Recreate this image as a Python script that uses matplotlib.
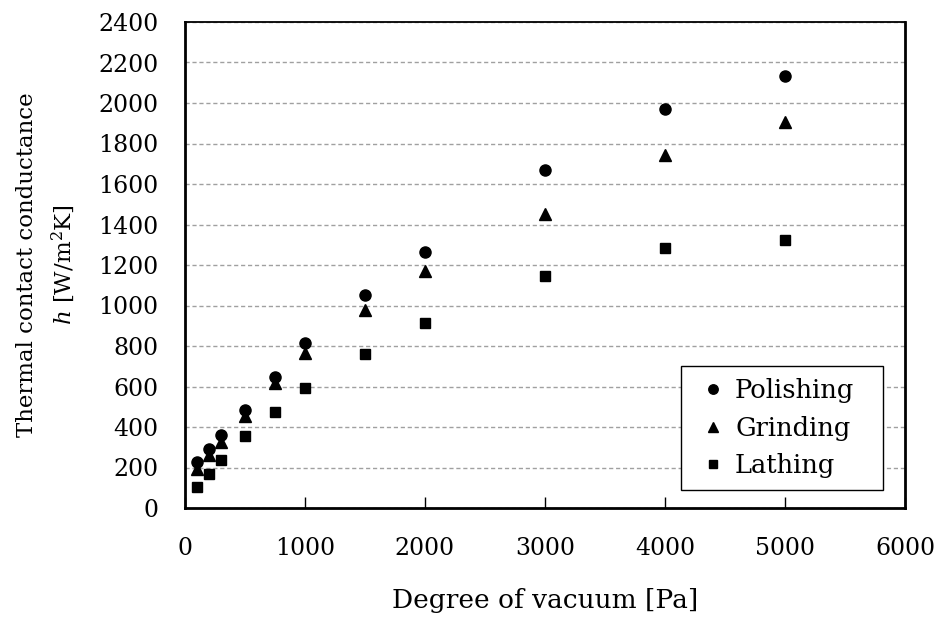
import matplotlib
matplotlib.use('Agg')
import matplotlib.pyplot as plt

plt.rcParams['font.family'] = 'DejaVu Serif'
plt.rcParams['mathtext.fontset'] = 'dejavuserif'

# degree of vacuum [Pa]
pressure = [100, 200, 300, 500, 750, 1000, 1500, 2000, 3000, 4000, 5000]
# thermal contact conductance [W/m2K]
polishing = [225, 290, 360, 485, 645, 815, 1050, 1265, 1670, 1972, 2132]
grinding = [195, 260, 328, 452, 617, 763, 980, 1168, 1452, 1745, 1905]
lathing = [102, 168, 236, 356, 476, 595, 760, 915, 1148, 1283, 1324]

xticks = [0, 1000, 2000, 3000, 4000, 5000, 6000]
yticks = list(range(0, 2401, 200))

fig = plt.figure(figsize=(9.42, 6.25), dpi=100)
ax = fig.add_axes([0.1964, 0.1872, 0.7643, 0.7776])

ax.plot(pressure, polishing, 'o', color='black', markersize=8, label='Polishing', zorder=3)
ax.plot(pressure, grinding, '^', color='black', markersize=8, label='Grinding', zorder=3)
ax.plot(pressure, lathing, 's', color='black', markersize=7, label='Lathing', zorder=3)

ax.set_xlim(0, 6000)
ax.set_ylim(0, 2400)
ax.set_xticks(xticks)
ax.set_yticks(yticks)
ax.tick_params(axis='x', direction='in', length=8, width=1, pad=21, labelsize=17)
ax.tick_params(axis='y', direction='in', length=0, pad=19, labelsize=17)

ax.yaxis.grid(True, linestyle=(0, (3, 2)), color='#a0a0a0', linewidth=1)
ax.set_axisbelow(True)

for side in ['left', 'bottom', 'right']:
    ax.spines[side].set_linewidth(2)
ax.spines['top'].set_linewidth(1.3)

ax.set_xlabel('Degree of vacuum [Pa]', fontsize=19, labelpad=20)
ax.set_ylabel('Thermal contact conductance\n$h$ [W/m$^2$K]', fontsize=16.5,
              linespacing=1.55)
ax.yaxis.set_label_coords(-0.15, 0.5)

leg = ax.legend(loc='lower left', bbox_to_anchor=(0.689, 0.037, 0.2806, 0.0),
                mode='expand', borderaxespad=0, fontsize=18.5,
                frameon=True, fancybox=False, edgecolor='black', framealpha=1,
                handletextpad=0.05, borderpad=0.45, labelspacing=0.5,
                handlelength=1.6, markerscale=0.85)
leg.get_frame().set_linewidth(1)

fig.savefig('out.png', dpi=100)
